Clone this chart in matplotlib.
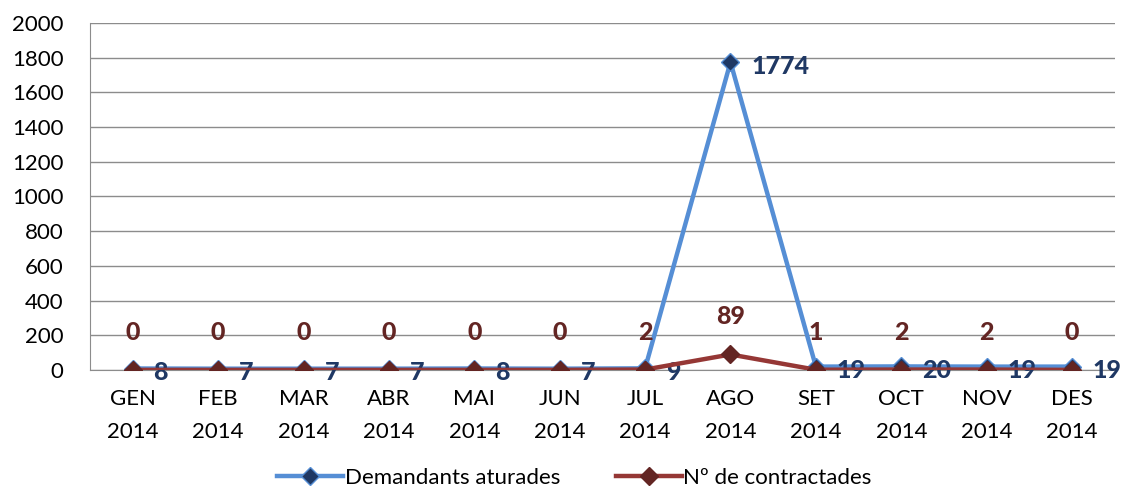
import numpy as np
import matplotlib.pyplot as plt

plt.rcParams['font.family'] = ['Lato', 'DejaVu Sans']

# Data
months = ['GEN\n2014', 'FEB\n2014', 'MAR\n2014', 'ABR\n2014', 'MAI\n2014', 'JUN\n2014',
          'JUL\n2014', 'AGO\n2014', 'SET\n2014', 'OCT\n2014', 'NOV\n2014', 'DES\n2014']
aturades = [8, 7, 7, 7, 8, 7, 9, 1774, 19, 20, 19, 19]
contractades = [0, 0, 0, 0, 0, 0, 2, 89, 1, 2, 2, 0]

x = np.arange(len(months))

fig = plt.figure(figsize=(11.26, 4.88), dpi=100)
ax = fig.add_axes([0.080, 0.242, 0.910, 0.711])

blue = '#558ED5'
navy = '#1F3864'
red = '#953735'
dred = '#632523'

ax.plot(x, aturades, color=blue, lw=3.2, marker='D', ms=9.5,
        mfc=navy, mec=blue, mew=1, label='Demandants aturades', zorder=3)
ax.plot(x, contractades, color=red, lw=3.2, marker='D', ms=9.5,
        mfc=dred, mec=dred, mew=1, label='Nº de contractades', zorder=4)

for xi, v in zip(x, aturades):
    ax.annotate(str(v), (xi, v), xytext=(15, -3), textcoords='offset points',
                ha='left', va='center', fontsize=18, fontweight='black', color=navy)
for xi, v in zip(x, contractades):
    ax.annotate(str(v), (xi, v), xytext=(0, 27), textcoords='offset points',
                ha='center', va='center', fontsize=18, fontweight='black', color=dred)

ax.set_xlim(-0.5, 11.5)
ax.set_ylim(0, 2000)
ax.set_yticks(np.arange(0, 2001, 200))
ax.set_xticks(x)
ax.set_xticklabels(months, linespacing=1.8)
ax.tick_params(axis='both', length=0, labelsize=16, colors='black')
ax.tick_params(axis='x', pad=14)
ax.tick_params(axis='y', pad=19)
ax.grid(axis='y', color='#8c8c8c', lw=1)
ax.set_axisbelow(True)
for s in ['top', 'right']:
    ax.spines[s].set_visible(False)
for s in ['left', 'bottom']:
    ax.spines[s].set_color('#8c8c8c')

h, l = ax.get_legend_handles_labels()
fig.legend(h, l, loc='center', bbox_to_anchor=(0.51, 0.02), ncol=2, frameon=False,
           fontsize=16, handlelength=3, handletextpad=0.05, columnspacing=2.5)

fig.savefig('out.png', dpi=100)
